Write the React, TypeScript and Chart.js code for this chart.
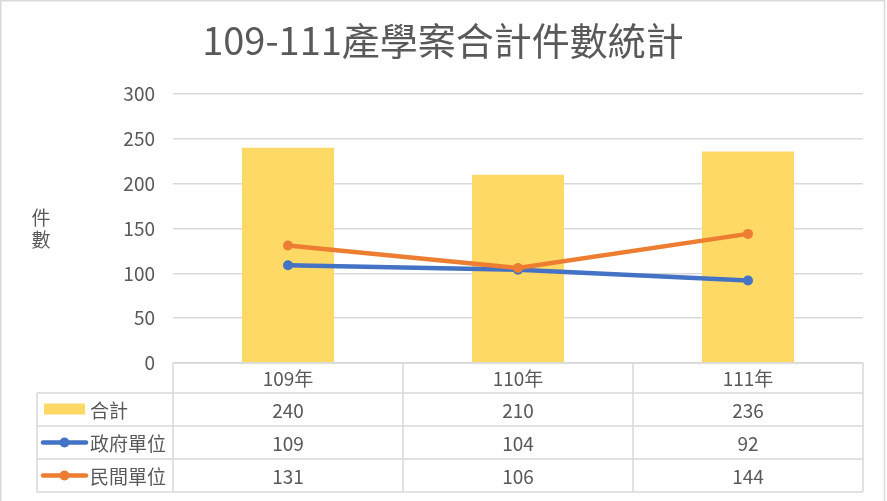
import React, { useEffect, useRef } from "react";
import { Chart, registerables } from "chart.js";

Chart.register(...registerables);

const categories = ["109年", "110年", "111年"];
const totalValues = [240, 210, 236];
const govValues = [109, 104, 92];
const privValues = [131, 106, 144];
const seriesNames = ["合計", "政府單位", "民間單位"];
const titleText = "109-111產學案合計件數統計";
const yAxisTitle = ["件", "數"];
const yMin = 0;
const yMax = 300;
const yStep = 50;

const COLORS = {
  bar: "#FFD966",
  gov: "#4472C4",
  priv: "#ED7D31",
  grid: "#D9D9D9",
  text: "#595959",
};
const FONT = '"Noto Sans CJK TC", "Noto Sans", sans-serif';

const W = 887;
const H = 501;

const tablePlugin = {
  id: "excelTable",
  afterDraw(chart: any) {
    const ctx = chart.ctx;
    const area = chart.chartArea;
    const xs = chart.scales.x;
    ctx.save();

    // outer border
    ctx.strokeStyle = COLORS.grid;
    ctx.lineWidth = 1.5;
    ctx.beginPath();
    ctx.moveTo(0.75, H + 5);
    ctx.lineTo(0.75, 0.75);
    ctx.lineTo(884.5, 0.75);
    ctx.lineTo(884.5, H + 5);
    ctx.stroke();

    // title
    ctx.fillStyle = COLORS.text;
    ctx.font = `38px ${FONT}`;
    ctx.textAlign = "center";
    ctx.textBaseline = "middle";
    ctx.fillText(titleText, 443, 41);

    // y axis title (stacked)
    ctx.font = `19px ${FONT}`;
    yAxisTitle.forEach((ch, i) => {
      ctx.fillText(ch, 41, 218 + i * 22);
    });

    // data table
    const n = categories.length;
    const colW = (area.right - area.left) / n;
    const headerTop = area.bottom;
    const headerH = 30;
    const rowH = 33;
    const tableLeft = 37;
    const rowTops = [0, 1, 2].map((i) => headerTop + headerH + i * rowH);
    const tableBottom = headerTop + headerH + 3 * rowH;

    ctx.strokeStyle = COLORS.grid;
    ctx.lineWidth = 1.5;
    ctx.beginPath();
    ctx.moveTo(area.left, headerTop);
    ctx.lineTo(area.right, headerTop);
    [...rowTops, tableBottom].forEach((y) => {
      ctx.moveTo(tableLeft, y);
      ctx.lineTo(area.right, y);
    });
    ctx.moveTo(tableLeft, rowTops[0]);
    ctx.lineTo(tableLeft, tableBottom);
    for (let i = 0; i <= n; i++) {
      const x = area.left + i * colW;
      ctx.moveTo(x, headerTop);
      ctx.lineTo(x, tableBottom);
    }
    ctx.stroke();

    ctx.fillStyle = COLORS.text;
    ctx.font = `19px ${FONT}`;
    ctx.textAlign = "center";
    ctx.textBaseline = "middle";
    categories.forEach((c, i) => {
      ctx.fillText(c, xs.getPixelForValue(i), headerTop + headerH / 2 + 1);
    });
    const rows = [totalValues, govValues, privValues];
    rows.forEach((vals, r) => {
      const cy = rowTops[r] + rowH / 2 + 1;
      vals.forEach((v, i) => {
        ctx.fillText(String(v), xs.getPixelForValue(i), cy);
      });
    });

    // legend keys & names
    ctx.textAlign = "left";
    seriesNames.forEach((name, r) => {
      const cy = rowTops[r] + rowH / 2;
      if (r === 0) {
        ctx.fillStyle = COLORS.bar;
        ctx.fillRect(44, cy - 6, 41, 11);
      } else {
        const col = r === 1 ? COLORS.gov : COLORS.priv;
        ctx.strokeStyle = col;
        ctx.lineWidth = 4.5;
        ctx.lineCap = "round";
        ctx.beginPath();
        ctx.moveTo(43, cy);
        ctx.lineTo(86, cy);
        ctx.stroke();
        ctx.fillStyle = col;
        ctx.beginPath();
        ctx.arc(64.5, cy, 5, 0, Math.PI * 2);
        ctx.fill();
      }
      ctx.fillStyle = COLORS.text;
      ctx.fillText(name, 90, cy + 1);
    });

    ctx.restore();
  },
};

export default function App() {
  const ref = useRef<HTMLCanvasElement | null>(null);
  useEffect(() => {
    if (!ref.current) return;
    const chart = new Chart(ref.current, {
      type: "bar",
      data: {
        labels: categories,
        datasets: [
          {
            type: "line",
            label: seriesNames[2],
            data: privValues,
            borderColor: COLORS.priv,
            backgroundColor: COLORS.priv,
            borderWidth: 4.5,
            pointRadius: 5,
            pointBorderWidth: 0,
            pointBackgroundColor: COLORS.priv,
            tension: 0,
            order: 0,
          },
          {
            type: "line",
            label: seriesNames[1],
            data: govValues,
            borderColor: COLORS.gov,
            backgroundColor: COLORS.gov,
            borderWidth: 4.5,
            pointRadius: 5,
            pointBorderWidth: 0,
            pointBackgroundColor: COLORS.gov,
            tension: 0,
            order: 1,
          },
          {
            type: "bar",
            label: seriesNames[0],
            data: totalValues,
            backgroundColor: COLORS.bar,
            borderWidth: 0,
            barPercentage: 0.4,
            categoryPercentage: 1,
            order: 2,
          },
        ],
      },
      options: {
        responsive: false,
        animation: false,
        devicePixelRatio: 1,
        layout: { padding: { top: 94, bottom: 138, left: 0, right: 24 } },
        plugins: {
          legend: { display: false },
          tooltip: { enabled: false },
          title: { display: false },
        },
        scales: {
          x: {
            display: false,
            offset: true,
          },
          y: {
            min: yMin,
            max: yMax,
            ticks: {
              stepSize: yStep,
              padding: 18,
              color: COLORS.text,
              font: { family: FONT, size: 19 },
            },
            grid: {
              color: COLORS.grid,
              lineWidth: 1.5,
              drawTicks: false,
            },
            border: { display: false },
            afterFit(scale: any) {
              scale.width = 173;
            },
          },
        },
      },
      plugins: [tablePlugin],
    });
    return () => chart.destroy();
  }, []);
  return (
    <div style={{ position: "fixed", left: 0, top: 0, width: W, height: H, background: "#fff" }}>
      <canvas ref={ref} width={W} height={H} style={{ width: W, height: H, display: "block" }} />
    </div>
  );
}
